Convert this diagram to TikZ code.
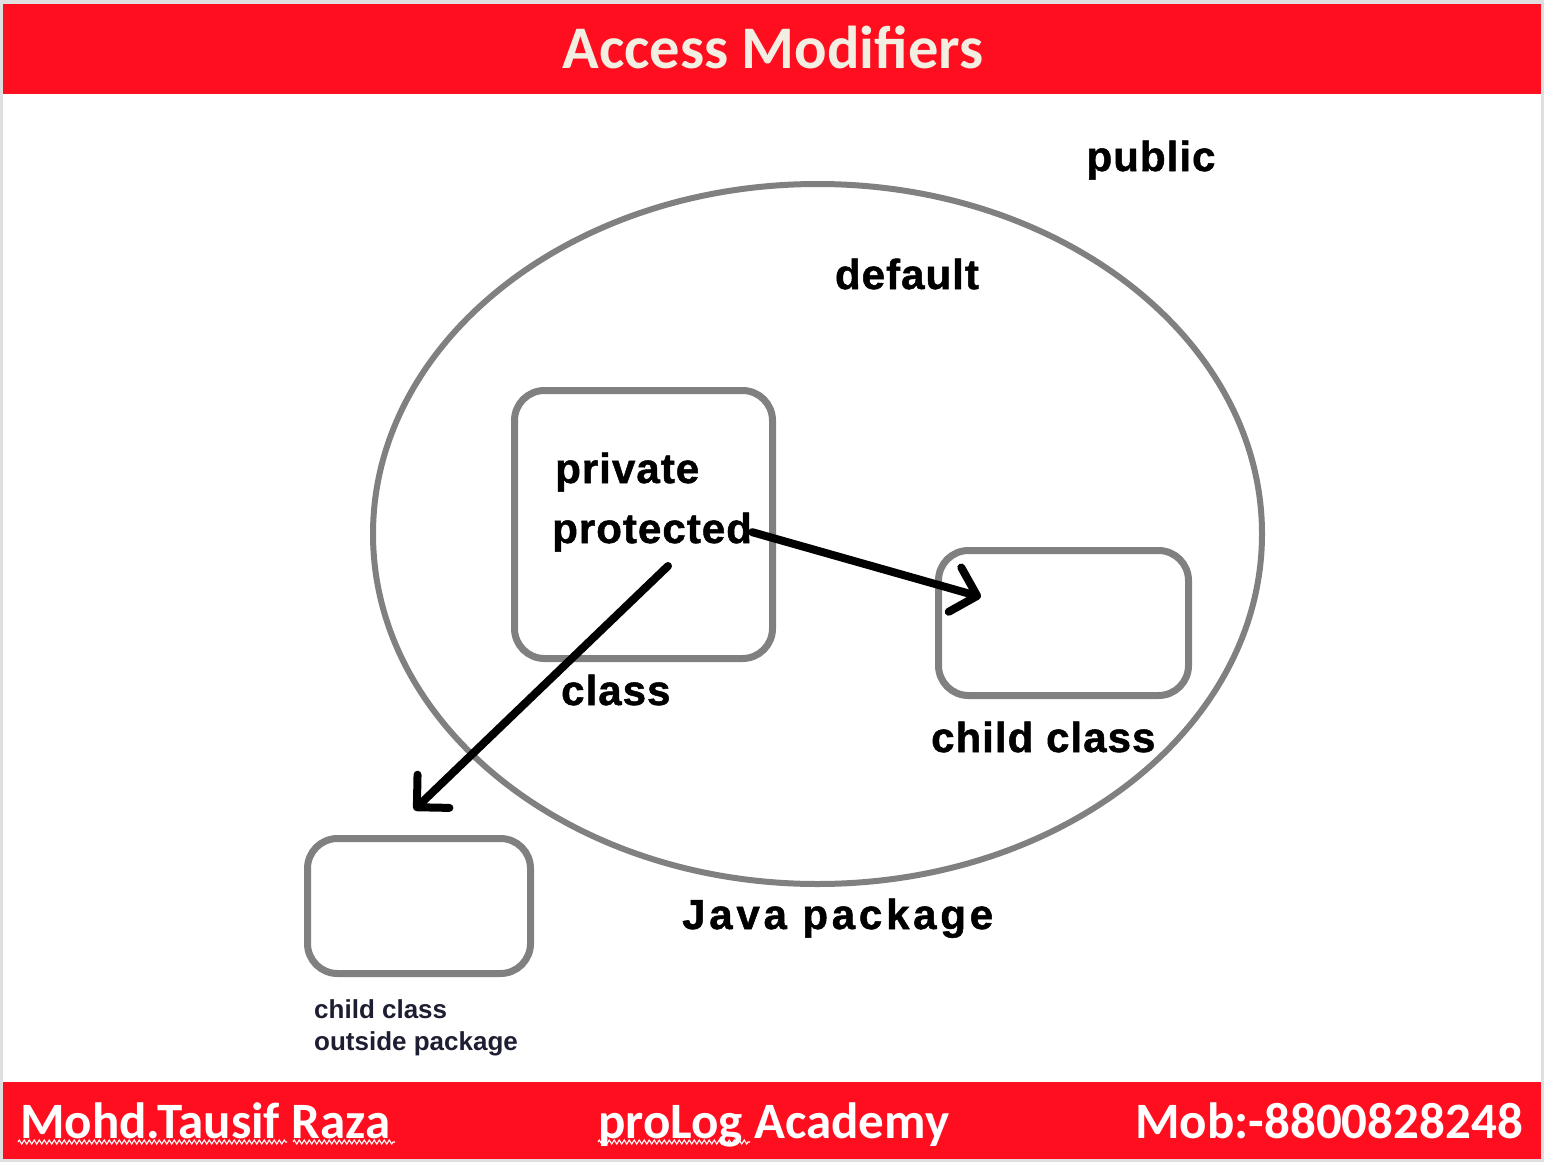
\documentclass[tikz,border=0pt]{standalone}
\usepackage{fontspec}
\setmainfont{Liberation Sans}
\newfontfamily\calibri{Carlito}
\newfontfamily\heavyfont[FakeBold=1.2,LetterSpace=2.5]{Liberation Sans}
\usetikzlibrary{arrows.meta,decorations.pathmorphing}
\definecolor{bannerred}{RGB}{254,14,30}
\definecolor{bannertext}{RGB}{242,238,226}
\definecolor{linegray}{RGB}{128,128,128}
\definecolor{smalltext}{RGB}{30,30,50}
\tikzset{
  box/.style={draw=linegray,line width=7pt,rounded corners=30pt,inner sep=0pt},
  lbl/.style={font=\heavyfont\fontsize{42}{48}\selectfont\bfseries,anchor=base west,inner sep=0pt},
  smalllbl/.style={font=\fontsize{26}{32}\selectfont\bfseries,text=smalltext,anchor=base west,inner sep=0pt},
  bannerlbl/.style={font=\calibri\fontsize{60.5}{66}\selectfont\bfseries,text=bannertext,inner sep=0pt},
  footlbl/.style={font=\calibri\fontsize{51}{56}\selectfont\bfseries,text=white,inner sep=0pt},
  push/.style={-{Straight Barb[length=23pt,width=46pt,round]},line width=8pt,line cap=round},
  squiggle/.style={draw=white,line width=1.1pt,decorate,decoration={zigzag,amplitude=2pt,segment length=5pt}}
}
\begin{document}
\begin{tikzpicture}[x=1pt,y=-1pt]
  \useasboundingbox (0,0) rectangle (1544,1162);
  % page frame and red bands
  \fill[gray!25] (0,0) rectangle (1544,1162);
  \fill[white] (3,4) rectangle (1541,1159);
  \fill[bannerred] (3,4) rectangle (1541,94);
  \fill[bannerred] (3,1082) rectangle (1541,1159);
  \node[bannerlbl,anchor=base] (title) at (773,68) {Access Modifiers};
  % java package
  \draw[linegray,line width=6pt] (817.5,534) ellipse [x radius=444.5pt, y radius=350pt];
  % classes
  \node[box,minimum width=258pt,minimum height=268pt] (cls) at (643.5,524.5) {};
  \node[box,minimum width=250pt,minimum height=145pt] (child) at (1063.5,623) {};
  \node[box,minimum width=223pt,minimum height=135pt] (outer) at (419,906) {};
  % labels
  \node[lbl,anchor=base] (pub) at (1151,171) {public};
  \node[lbl,anchor=base] (dflt) at (907,289) {default};
  \node[lbl] (priv) at (555,483) {private};
  \node[lbl] (prot) at (552,543) {protected};
  \node[lbl] (clsname) at (561,705) {class};
  \node[lbl] (childname) at (931,752) {child class};
  \node[lbl] (pkg) at (682,929) {\addfontfeatures{LetterSpace=9}Java package};
  \node[smalllbl] (outname) at (314,1018) {child class};
  \node[smalllbl] (outpkg) at (314,1050) {outside package};
  % inheritance arrows
  \coordinate (tipA) at (981,597);
  \coordinate (tailB) at (668,566);
  \coordinate (tipB) at (414,810);
  \draw[push] (prot.east) -- (tipA);
  \draw[push] (tailB) -- (tipB);
  % footer
  \node[footlbl,anchor=base west] (author) at (20,1138) {Mohd.Tausif Raza};
  \node[footlbl,anchor=base west] (academy) at (598,1138) {proLog Academy};
  \node[footlbl,anchor=base east] (phone) at (1523,1138) {Mob:-8800828248};
  \foreach \a/\b in {18/287, 293/395, 598/750}
    { \draw[squiggle] (\a,1142) -- (\b,1142); }
\end{tikzpicture}
\end{document}
